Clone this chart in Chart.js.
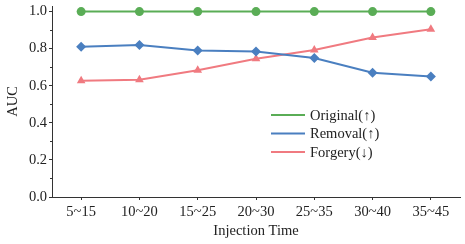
<!DOCTYPE html>
<html>
<head>
<meta charset="utf-8">
<script src="https://cdn.jsdelivr.net/npm/chart.js@4"></script>
<style>
  html, body { margin: 0; padding: 0; background: #fff; }
  #wrap { width: 465px; height: 244px; position: relative; }
</style>
</head>
<body>
<div id="wrap"><canvas id="auc-chart"></canvas></div>
<script>
// ===== AUC vs injection time =====
const CATEGORIES = ['5~15', '10~20', '15~25', '20~30', '25~35', '30~40', '35~45'];
const ORIGINAL = [1.0, 1.0, 1.0, 1.0, 1.0, 1.0, 1.0];
const REMOVAL = [0.81, 0.82, 0.79, 0.785, 0.75, 0.67, 0.65];
const FORGERY = [0.627, 0.632, 0.683, 0.746, 0.793, 0.86, 0.905];
const Y_TICKS = [0, 0.2, 0.4, 0.6, 0.8, 1.0];
const Y_MINOR = [0.1, 0.3, 0.5, 0.7, 0.9];
const SERIES_NAMES = ['Original(\u2191)', 'Removal(\u2191)', 'Forgery(\u2193)'];

const COLORS = ['#5aad56', '#4a7fc0', '#f07a80'];
const FONT = '"Liberation Serif", "Times New Roman", serif';
const AXIS_COLOR = '#333';

// small minor ticks on the y axis + legend drawn inside the plot
const extrasPlugin = {
    id: 'extras',
    afterDraw(chart) {
        const ctx = chart.ctx;
        const y = chart.scales.y;
        ctx.save();
        ctx.strokeStyle = AXIS_COLOR;
        ctx.lineWidth = 1;
        Y_MINOR.forEach(v => {
            const py = Math.round(y.getPixelForValue(v)) + 0.5;
            ctx.beginPath();
            ctx.moveTo(y.right - 2, py);
            ctx.lineTo(y.right, py);
            ctx.stroke();
        });

        // legend
        ctx.font = `14.5px ${FONT}`;
        ctx.textBaseline = 'middle';
        ctx.fillStyle = '#222';
        const rows = [115, 133.5, 152];
        chart.data.datasets.forEach((ds, i) => {
            ctx.strokeStyle = ds.borderColor;
            ctx.lineWidth = 2;
            ctx.beginPath();
            ctx.moveTo(271, rows[i]);
            ctx.lineTo(305, rows[i]);
            ctx.stroke();
            ctx.fillText(ds.label, 310, rows[i] + 1);
        });
        ctx.restore();
    }
};

function makeDataset(label, data, color, style, radius) {
    return {
        label, data,
        borderColor: color, backgroundColor: color,
        borderWidth: 2,
        pointStyle: style, pointRadius: radius, pointHoverRadius: radius,
        pointBorderWidth: 0,
        tension: 0,
    };
}

new Chart(document.getElementById('auc-chart'), {
    type: 'line',
    data: {
        labels: CATEGORIES,
        datasets: [
            makeDataset(SERIES_NAMES[0], ORIGINAL, COLORS[0], 'circle', 4.5),
            makeDataset(SERIES_NAMES[1], REMOVAL, COLORS[1], 'rectRot', 5),
            makeDataset(SERIES_NAMES[2], FORGERY, COLORS[2], 'triangle', 5),
        ]
    },
    options: {
        responsive: true,
        maintainAspectRatio: false,
        animation: false,
        devicePixelRatio: 1,
        layout: { padding: { top: 6, right: 4, left: 0, bottom: 0 } },
        plugins: { legend: { display: false }, tooltip: { enabled: false } },
        scales: {
            x: {
                offset: true,
                grid: { display: true, drawOnChartArea: false, drawTicks: true, tickLength: 3, color: AXIS_COLOR },
                border: { display: true, color: AXIS_COLOR, width: 1 },
                ticks: { font: { family: FONT, size: 14.5 }, color: '#222', padding: 3, maxRotation: 0 },
                title: { display: true, text: 'Injection Time', font: { family: FONT, size: 14.5 }, color: '#222', padding: { top: 0, bottom: 4 } },
                afterFit: s => { s.height = 47; s.paddingLeft = 0; s.paddingRight = 0; }
            },
            y: {
                min: 0, max: 1.03,
                afterBuildTicks: s => { s.ticks = Y_TICKS.map(v => ({ value: v })); },
                grid: { display: true, drawOnChartArea: false, drawTicks: true, tickLength: 3, color: AXIS_COLOR },
                border: { display: true, color: AXIS_COLOR, width: 1 },
                ticks: { font: { family: FONT, size: 14.5 }, color: '#222', padding: 2, callback: v => v.toFixed(1) },
                title: { display: true, text: 'AUC', font: { family: FONT, size: 14.5 }, color: '#222', padding: { top: 4, bottom: 0 } },
                afterFit: s => { s.width = 52; s.paddingTop = 0; s.paddingBottom = 0; }
            }
        }
    },
    plugins: [extrasPlugin]
});
</script>
</body>
</html>
